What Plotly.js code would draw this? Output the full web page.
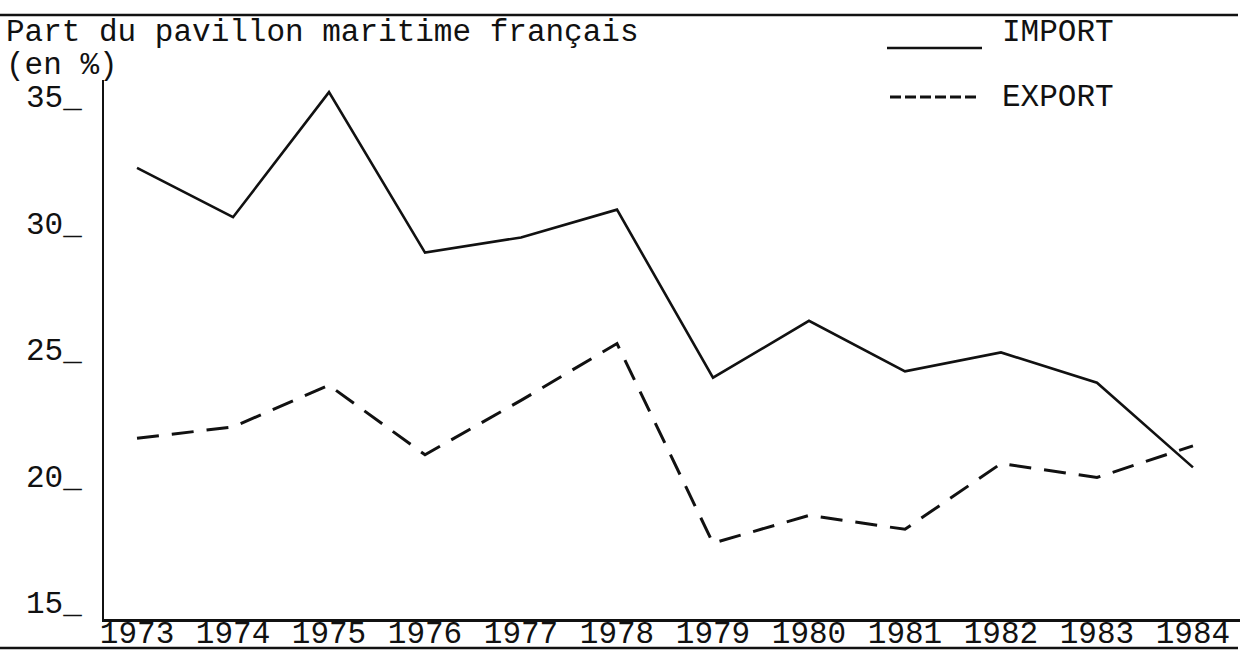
<!DOCTYPE html>
<html>
<head>
<meta charset="utf-8">
<script src="https://cdn.plot.ly/plotly-3.0.1.min.js"></script>
<style>
  html, body { margin: 0; padding: 0; background: #ffffff; }
  #chart { width: 1251px; height: 659px; }
</style>
</head>
<body>
<div id="chart"></div>
<script>
// ---- data ----
const years = [1973, 1974, 1975, 1976, 1977, 1978, 1979, 1980, 1981, 1982, 1983, 1984];
const importShare = [32.85, 30.9, 35.85, 29.5, 30.1, 31.2, 24.55, 26.8, 24.8, 25.55, 24.35, 21.0];
const exportShare = [22.15, 22.6, 24.25, 21.5, 23.65, 25.9, 18.0, 19.1, 18.55, 21.15, 20.6, 21.85];
const yTickVals = [15, 20, 25, 30, 35];
const yTickText = ["15_", "20_", "25_", "30_", "35_"];
const xTickText = years.map(String);
const titleLine1 = "Part du pavillon maritime français";
const titleLine2 = "(en %)";
const seriesNames = ["IMPORT", "EXPORT"];

const FONT = "Courier New, Liberation Mono, monospace";
const INK = "#111111";

const traces = [
  {
    x: years, y: importShare, name: seriesNames[0], type: "scatter", mode: "lines",
    line: { color: INK, width: 2.6 }, showlegend: false, hoverinfo: "skip"
  },
  {
    x: years, y: exportShare, name: seriesNames[1], type: "scatter", mode: "lines",
    line: { color: INK, width: 3, dash: "22px,13px" }, showlegend: false, hoverinfo: "skip"
  }
];

// helpers: pixel -> paper conversions (plot area 104..1240 x, 80..619 y)
const L = 104, R = 11, T = 80, B = 40;
const PW = 1251 - L - R, PH = 659 - T - B;
const px = v => (v - L) / PW;
const py = v => (659 - B - v) / PH;

const layout = {
  width: 1251, height: 659,
  margin: { l: L, r: R, t: T, b: B, pad: 0 },
  paper_bgcolor: "#ffffff", plot_bgcolor: "#ffffff",
  font: { family: FONT, size: 31, color: INK },
  xaxis: {
    range: [1972.656, 1984.49],
    tickvals: years, ticktext: xTickText,
    showgrid: false, zeroline: false,
    showline: true, linecolor: INK, linewidth: 3,
    ticks: "", tickfont: { family: FONT, size: 31, color: INK },
    ticklabelstandoff: -16,
    fixedrange: true
  },
  yaxis: {
    range: [15, 36.33],
    tickvals: yTickVals, ticktext: yTickText,
    showgrid: false, zeroline: false,
    showline: true, linecolor: INK, linewidth: 2,
    ticks: "", tickfont: { family: FONT, size: 31, color: INK },
    ticklabelshift: -17, ticklabelstandoff: 14,
    fixedrange: true
  },
  shapes: [
    // top rule
    { type: "line", xref: "paper", yref: "paper", x0: px(0), x1: px(1238), y0: py(15), y1: py(15),
      line: { color: INK, width: 2.5 } },
    // bottom rule
    { type: "line", xref: "paper", yref: "paper", x0: px(0), x1: px(1238), y0: py(648), y1: py(648),
      line: { color: INK, width: 2.5 } },
    // legend keys
    { type: "line", xref: "paper", yref: "paper", x0: px(887), x1: px(982), y0: py(48), y1: py(48),
      line: { color: INK, width: 2.6 } },
    { type: "line", xref: "paper", yref: "paper", x0: px(890), x1: px(978), y0: py(97), y1: py(97),
      line: { color: INK, width: 3, dash: "11px,4px" } }
  ],
  annotations: [
    { text: titleLine1, xref: "paper", yref: "paper", x: px(4), y: py(32),
      xanchor: "left", yanchor: "middle", showarrow: false, font: { family: FONT, size: 31, color: INK } },
    { text: titleLine2, xref: "paper", yref: "paper", x: px(4), y: py(65),
      xanchor: "left", yanchor: "middle", showarrow: false, font: { family: FONT, size: 31, color: INK } },
    { text: seriesNames[0], xref: "paper", yref: "paper", x: px(1000), y: py(33),
      xanchor: "left", yanchor: "middle", showarrow: false, font: { family: FONT, size: 31, color: INK } },
    { text: seriesNames[1], xref: "paper", yref: "paper", x: px(1000), y: py(97),
      xanchor: "left", yanchor: "middle", showarrow: false, font: { family: FONT, size: 31, color: INK } }
  ],
  showlegend: false
};

Plotly.newPlot("chart", traces, layout, { displayModeBar: false, staticPlot: true });
</script>
</body>
</html>
